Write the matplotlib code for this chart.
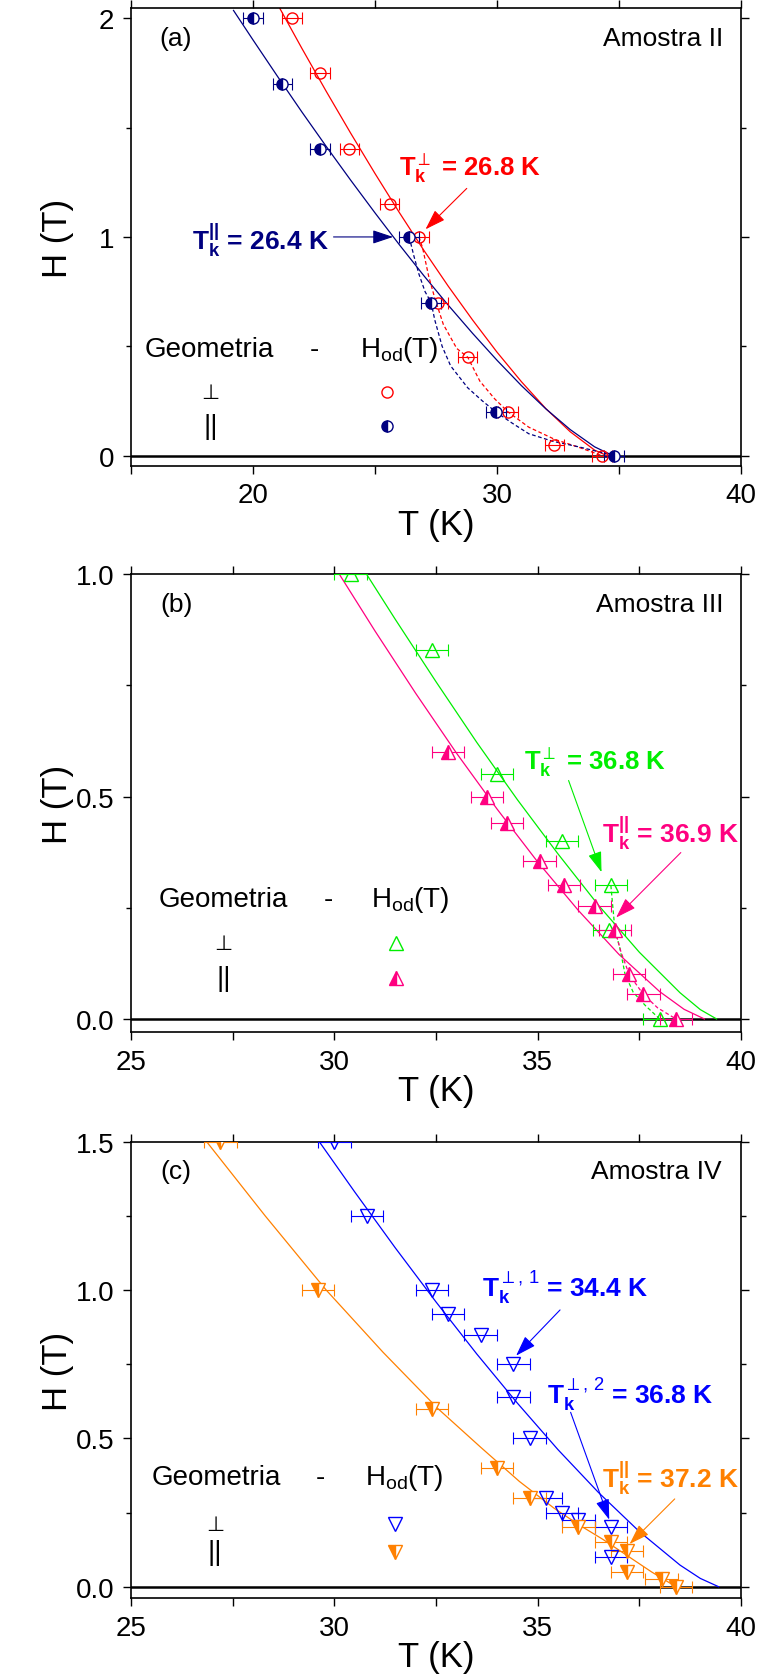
import matplotlib
matplotlib.use('Agg')
import matplotlib.pyplot as plt
from matplotlib.ticker import MultipleLocator, FormatStrFormatter

plt.rcParams['font.family'] = ['Liberation Sans', 'DejaVu Sans']
plt.rcParams['mathtext.fontset'] = 'custom'
plt.rcParams['mathtext.rm'] = 'Liberation Sans'
plt.rcParams['mathtext.bf'] = 'Liberation Sans:bold'
plt.rcParams['mathtext.it'] = 'Liberation Sans:italic'

# ---- dados: Amostra II (a)
Ta_perp = [21.6, 22.75, 23.95, 25.6, 26.8, 27.6, 28.8, 30.45, 32.35, 34.3]
Ha_perp = [2.0, 1.75, 1.4, 1.15, 1.0, 0.7, 0.45, 0.2, 0.05, 0.0]
Ta_par = [20.0, 21.2, 22.75, 26.4, 27.3, 29.95, 34.8]
Ha_par = [2.0, 1.7, 1.4, 1.0, 0.7, 0.2, 0.0]
# curvas
fa_perp_T = [21.1, 22, 23, 24, 25, 26, 27, 28, 29, 30, 31, 32, 33, 34, 34.5]
fa_perp_H = [2.045, 1.863, 1.666, 1.475, 1.29, 1.111, 0.939, 0.775, 0.62, 0.473, 0.338, 0.215, 0.109, 0.025, 0.0]
fa_par_T = [19.2, 20, 21, 22, 23, 24, 25, 26, 27, 28, 29, 30, 31, 32, 33, 34, 34.75]
fa_par_H = [2.036, 1.901, 1.735, 1.572, 1.414, 1.26, 1.11, 0.964, 0.823, 0.688, 0.559, 0.436, 0.32, 0.214, 0.119, 0.04, 0.0]
da_perp_T = [26.8, 26.95, 27.2, 27.45, 27.8, 28.35, 28.8, 29.3, 29.9, 30.45, 31.3, 32.35, 33.35, 34.3]
da_perp_H = [1.0, 0.95, 0.82, 0.72, 0.6, 0.49, 0.45, 0.34, 0.26, 0.2, 0.13, 0.075, 0.038, 0.0]
da_par_T = [26.4, 26.6, 26.8, 27.05, 27.3, 27.45, 27.75, 28.1, 28.8, 29.4, 29.95, 30.6, 31.3, 32.3, 33.35, 34.8]
da_par_H = [1.0, 0.91, 0.83, 0.75, 0.70, 0.62, 0.50, 0.41, 0.31, 0.25, 0.20, 0.15, 0.10, 0.065, 0.04, 0.0]

# ---- dados: Amostra III (b)
Tb_perp = [30.4, 32.4, 34.0, 35.6, 36.8, 36.75, 38.0]
Hb_perp = [1.0, 0.83, 0.55, 0.4, 0.3, 0.2, 0.0]
Tb_par = [32.8, 33.75, 34.25, 35.05, 35.65, 36.4, 36.9, 37.25, 37.6, 38.4]
Hb_par = [0.6, 0.5, 0.44, 0.355, 0.3, 0.255, 0.2, 0.1, 0.055, 0.0]
fb_perp_T = [30.79, 31.5, 32.5, 33.5, 34.5, 35.5, 36.5, 37.5, 38.5, 39.0, 39.4]
fb_perp_H = [1.0, 0.898, 0.758, 0.622, 0.493, 0.371, 0.255, 0.15, 0.059, 0.021, 0.0]
fb_par_T = [30.12, 31, 32, 33, 34, 35, 36, 37, 38, 38.6, 39.1]
fb_par_H = [1.0, 0.872, 0.732, 0.598, 0.472, 0.353, 0.244, 0.145, 0.0615, 0.0217, 0.0]
db_perp_T = [36.8, 36.85, 36.9, 37.02, 37.15, 37.35, 37.65, 38.0]
db_perp_H = [0.3, 0.25, 0.2, 0.16, 0.1, 0.06, 0.03, 0.0]
db_par_T = [36.9, 37.05, 37.25, 37.6, 37.95, 38.4]
db_par_H = [0.2, 0.15, 0.1, 0.055, 0.025, 0.0]

# ---- dados: Amostra IV (c)
Tc_perp = [30.0, 30.8, 32.4, 32.8, 33.6, 34.4, 34.4, 34.8, 35.2, 35.6, 36.0, 36.8, 36.8]
Hc_perp = [1.5, 1.25, 1.0, 0.92, 0.85, 0.75, 0.64, 0.5, 0.3, 0.25, 0.225, 0.2, 0.1]
Tc_par = [27.2, 29.6, 32.4, 34.0, 34.8, 36.0, 36.8, 37.2, 37.2, 38.05, 38.4]
Hc_par = [1.5, 1.0, 0.6, 0.4, 0.3, 0.2, 0.15, 0.12, 0.05, 0.025, 0.0]
fc_perp_T = [29.63, 30.5, 31.5, 32.5, 33.5, 34.5, 35.5, 36.5, 37.5, 38.5, 39.0, 39.45]
fc_perp_H = [1.5, 1.331, 1.142, 0.96, 0.785, 0.619, 0.462, 0.317, 0.186, 0.073, 0.028, 0.0]
fc_par_T = [26.86, 28.3, 29.8, 31.2, 32.55, 33.6, 34.55, 35.4, 36.0, 36.6, 37.2, 37.8, 38.4]
fc_par_H = [1.5, 1.25, 1.0, 0.79, 0.6, 0.47, 0.355, 0.265, 0.21, 0.16, 0.105, 0.05, 0.0]

vermelho = '#ff0000'
marinho = '#000080'
verde = '#00ee00'
rosa = '#ff0080'
azul = '#0000ff'
laranja = '#ff8000'

fig = plt.figure(figsize=(7.64, 16.81), dpi=100)
axa = fig.add_axes([0.1715, 0.7224, 0.7984, 0.2721])
axb = fig.add_axes([0.1715, 0.3853, 0.7984, 0.2726])
axc = fig.add_axes([0.1715, 0.0486, 0.7984, 0.2716])


def estilo(ax, xlim, ylim, xmaj, xmin, ymaj, ymin, fmt):
    ax.set_xlim(*xlim)
    ax.set_ylim(*ylim)
    ax.xaxis.set_major_locator(MultipleLocator(xmaj))
    ax.xaxis.set_minor_locator(MultipleLocator(xmin))
    ax.yaxis.set_major_locator(MultipleLocator(ymaj))
    ax.yaxis.set_minor_locator(MultipleLocator(ymin))
    ax.yaxis.set_major_formatter(FormatStrFormatter(fmt))
    ax.tick_params(which='both', direction='out', top=True, right=True, width=1)
    ax.tick_params(which='major', length=6, labelsize=20, pad=6)
    ax.tick_params(axis='x', which='minor', length=6)
    ax.tick_params(axis='y', which='minor', length=3.5)
    for s in ax.spines.values():
        s.set_linewidth(1.2)
    ax.axhline(0, color='k', lw=1.8, zorder=1)
    ax.set_xlabel('T (K)', fontsize=25)
    ax.set_ylabel('H (T)', fontsize=25)
    ax.xaxis.set_label_coords(0.5, -0.092)
    ax.yaxis.set_label_coords(-0.093, 0.5)


def pontos(ax, T, H, cor, marker, ms, meio):
    ax.errorbar(T, H, xerr=0.4, fmt='none', ecolor=cor, elinewidth=0.8, capsize=4, capthick=0.8, zorder=3)
    if meio:
        ax.plot(T, H, ls='none', marker=marker, ms=ms, mec=cor, mfc=cor, fillstyle='left',
                markerfacecoloralt='white', mew=1, zorder=4)
    else:
        ax.plot(T, H, ls='none', marker=marker, ms=ms, mec=cor, mfc='none', mew=1, zorder=4)


def seta(ax, tail, tip, cor):
    ax.annotate('', xy=tip, xytext=tail,
                arrowprops=dict(arrowstyle='-|>,head_length=0.9,head_width=0.3', color=cor, lw=0.8,
                                mutation_scale=14, shrinkA=0, shrinkB=0))


def legenda(ax, x_geo, y_geo, x_traco, x_h, x_sim, x_mk, y1, y2, mk, c1, c2, ms):
    ax.text(x_geo, y_geo, 'Geometria', transform=ax.transAxes, fontsize=20, va='center')
    ax.text(x_traco, y_geo, '-', transform=ax.transAxes, fontsize=20, va='center', ha='center')
    ax.text(x_h, y_geo, r'H$_{\mathrm{od}}$(T)', transform=ax.transAxes, fontsize=20, va='center')
    ax.text(x_sim, y1, '\u22a5', transform=ax.transAxes, fontsize=15, va='center', ha='center',
            family=['DejaVu Sans'])
    ax.text(x_sim, y2, '||', transform=ax.transAxes, fontsize=20, va='center', ha='center')
    ax.plot([x_mk], [y1], transform=ax.transAxes, marker=mk, ms=ms, mec=c1, mfc='none', mew=1, ls='none')
    ax.plot([x_mk], [y2], transform=ax.transAxes, marker=mk, ms=ms, mec=c2, mfc=c2, fillstyle='left',
            markerfacecoloralt='white', mew=1, ls='none')


# ---------------- (a)
estilo(axa, (15, 40), (-0.046, 2.046), 10, 5, 1, 0.5, '%g')
axa.plot(fa_perp_T, fa_perp_H, color=vermelho, lw=0.9)
axa.plot(fa_par_T, fa_par_H, color=marinho, lw=0.9)
axa.plot(da_perp_T, da_perp_H, color=vermelho, lw=0.9, ls=(0, (3, 2)))
axa.plot(da_par_T, da_par_H, color=marinho, lw=0.9, ls=(0, (3, 2)))
pontos(axa, Ta_perp, Ha_perp, vermelho, 'o', 8, False)
pontos(axa, Ta_par, Ha_par, marinho, 'o', 8, True)
axa.text(0.047, 0.935, '(a)', transform=axa.transAxes, fontsize=19, va='center')
axa.text(0.971, 0.935, 'Amostra II', transform=axa.transAxes, fontsize=19, va='center', ha='right')
axa.text(17.5, 0.99, r'$\mathbf{T}_\mathbf{k}^{\mathbf{||}}$ = 26.4 K', color=marinho, fontsize=19,
         fontweight='bold', va='center')
seta(axa, (23.3, 1.0), (25.74, 1.0), marinho)
axa.text(25.98, 1.32, r'$\mathbf{T}_\mathbf{k}^{\perp}$ = 26.8 K', color=vermelho, fontsize=18.5,
         fontweight='bold', va='center')
seta(axa, (28.76, 1.222), (27.07, 1.035), vermelho)
legenda(axa, 0.022, 0.255, 0.30, 0.376, 0.13, 0.42, 0.162, 0.087, 'o', vermelho, marinho, 8)

# ---------------- (b)
estilo(axb, (25, 40), (-0.03, 1.0), 5, 2.5, 0.5, 0.25, '%.1f')
axb.plot(fb_perp_T, fb_perp_H, color=verde, lw=0.9)
axb.plot(fb_par_T, fb_par_H, color=rosa, lw=0.9)
axb.plot(db_perp_T, db_perp_H, color=verde, lw=0.9, ls=(0, (3, 2)))
axb.plot(db_par_T, db_par_H, color=rosa, lw=0.9, ls=(0, (3, 2)))
pontos(axb, Tb_perp, Hb_perp, verde, '^', 10, False)
pontos(axb, Tb_par, Hb_par, rosa, '^', 10, True)
axb.text(0.048, 0.935, '(b)', transform=axb.transAxes, fontsize=19, va='center')
axb.text(0.971, 0.935, 'Amostra III', transform=axb.transAxes, fontsize=19, va='center', ha='right')
axb.text(34.67, 0.579, r'$\mathbf{T}_\mathbf{k}^{\perp}$ = 36.8 K', color=verde, fontsize=18.5,
         fontweight='bold', va='center')
seta(axb, (35.76, 0.536), (36.57, 0.33), verde)
axb.text(36.57, 0.42, r'$\mathbf{T}_\mathbf{k}^{\mathbf{||}}$ = 36.9 K', color=rosa, fontsize=19,
         fontweight='bold', va='center')
seta(axb, (38.52, 0.374), (36.93, 0.228), rosa)
legenda(axb, 0.045, 0.291, 0.324, 0.393, 0.152, 0.435, 0.194, 0.118, '^', verde, rosa, 10)

# ---------------- (c)
estilo(axc, (25, 40), (-0.039, 1.5), 5, 2.5, 0.5, 0.25, '%.1f')
axc.plot(fc_perp_T, fc_perp_H, color=azul, lw=0.9)
axc.plot(fc_par_T, fc_par_H, color=laranja, lw=0.9)
pontos(axc, Tc_perp, Hc_perp, azul, 'v', 10, False)
pontos(axc, Tc_par, Hc_par, laranja, 'v', 10, True)
axc.text(0.048, 0.937, '(c)', transform=axc.transAxes, fontsize=19, va='center')
axc.text(0.969, 0.937, 'Amostra IV', transform=axc.transAxes, fontsize=19, va='center', ha='right')
axc.text(33.64, 1.012, r'$\mathbf{T}_\mathbf{k}^{\perp,\,1}$ = 34.4 K', color=azul, fontsize=19,
         fontweight='bold', va='center')
seta(axc, (35.55, 0.933), (34.47, 0.779), azul)
axc.text(35.22, 0.652, r'$\mathbf{T}_\mathbf{k}^{\perp,\,2}$ = 36.8 K', color=azul, fontsize=19,
         fontweight='bold', va='center')
seta(axc, (35.81, 0.588), (36.76, 0.226), azul)
axc.text(36.59, 0.37, r'$\mathbf{T}_\mathbf{k}^{\mathbf{||}}$ = 37.2 K', color=laranja, fontsize=19,
         fontweight='bold', va='center')
seta(axc, (38.37, 0.296), (37.26, 0.144), laranja)
legenda(axc, 0.033, 0.266, 0.31, 0.383, 0.138, 0.433, 0.163, 0.102, 'v', azul, laranja, 10)

fig.savefig('out.png', dpi=100)
